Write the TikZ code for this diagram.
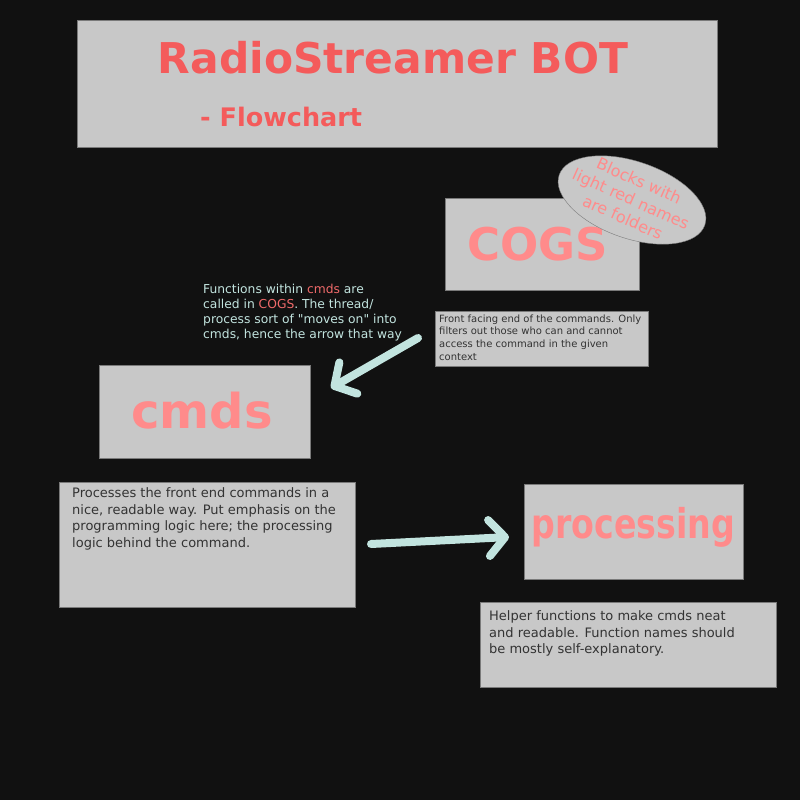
\documentclass[tikz,border=0pt]{standalone}
\usepackage{fontspec}
\setmainfont{DejaVu Sans}[Ligatures=TeXOff]
\usetikzlibrary{shapes.geometric,arrows.meta}
\definecolor{bg}{HTML}{111111}
\definecolor{boxfill}{HTML}{C8C8C8}
\definecolor{boxline}{HTML}{7A7A7A}
\definecolor{titlered}{HTML}{F45B5B}
\definecolor{lightred}{HTML}{FF8B8B}
\definecolor{mint}{HTML}{C2E4DF}
\definecolor{bodytext}{HTML}{333333}
\definecolor{annored}{HTML}{F06A6A}
\tikzset{
  box/.style={draw=boxline, line width=0.8pt, fill=boxfill, anchor=north west, inner sep=0pt},
  flowarrow/.style={draw=mint, line width=8pt, line cap=round, -{Straight Barb[length=16pt, width=36pt, round]}},
  bigname/.style={text=lightred, font=\bfseries\fontsize{#1}{#1}\selectfont, inner sep=0pt, anchor=base},
  para/.style={anchor=north west, inner sep=0pt, align=left, text=bodytext},
}
\begin{document}
\begin{tikzpicture}[x=1pt,y=-1pt]
\useasboundingbox (0,0) rectangle (800,800);
\fill[bg] (0,0) rectangle (800,800);

% title
\node[box, minimum width=640pt, minimum height=127pt] (titlebox) at (77,20) {};
\node[text=titlered, font=\bfseries\fontsize{42.4}{42}\selectfont, inner sep=0pt, anchor=base] (title) at (393,74) {RadioStreamer BOT};
\node[text=titlered, font=\bfseries\fontsize{25.5}{26}\selectfont, inner sep=0pt, anchor=base west] (subtitle) at (200,126) {- Flowchart};

% COGS
\node[box, minimum width=194pt, minimum height=92pt] (cogsbox) at (445,198) {};
\node[bigname=45] (cogs) at (538,260) {COGS};
\node[draw=boxline, line width=0.4pt, fill=boxfill, ellipse, minimum width=154pt, minimum height=77pt, inner sep=0pt, rotate=-19] (noteshape) at (632,200) {};
\node[text=lightred, font=\fontsize{16}{20}\selectfont, align=center, inner sep=0pt, rotate=-24] (notetext) at (631,199) {Blocks with\\light red names\\are folders};

\node[box, minimum width=213pt, minimum height=55pt] (cogsdesc) at (435,311) {};
\node[para, font=\fontsize{10}{12.6}\selectfont] (cogsdesctext) at (439,314.5) {Front facing end of the commands. Only\\filters out those who can and cannot\\access the command in the given\\context};

% annotation
\node[anchor=north west, inner sep=0pt, align=left, text=mint, font=\fontsize{12.3}{15.1}\selectfont] (anno) at (203,283.5) {Functions within \textcolor{annored}{cmds} are\\called in \textcolor{annored}{COGS}. The thread/\\process sort of "moves on" into\\cmds, hence the arrow that way};

% cmds
\node[box, minimum width=211pt, minimum height=93pt] (cmdsbox) at (99,365) {};
\node[bigname=48] (cmds) at (202,428) {cmds};

\node[box, minimum width=296pt, minimum height=125pt] (cmdsdesc) at (59,482) {};
\node[para, font=\fontsize{13}{16.7}\selectfont] (cmdsdesctext) at (72,487.5) {Processes the front end commands in a\\nice, readable way. Put emphasis on the\\programming logic here; the processing\\logic behind the command.};

% processing
\node[box, minimum width=219pt, minimum height=95pt] (procbox) at (524,484) {};
\node[bigname=41, xscale=0.81] (proc) at (633.5,538) {processing};

\node[box, minimum width=296pt, minimum height=85pt] (procdesc) at (480,602) {};
\node[para, font=\fontsize{13}{16.7}\selectfont] (procdesctext) at (489,610.5) {Helper functions to make cmds neat\\and readable. Function names should\\be mostly self-explanatory.};

% arrows
\coordinate (a1s) at (418,338);
\coordinate (a1e) at (331,388);
\coordinate (a2s) at (371,544);
\coordinate (a2e) at (509,537);
\draw[flowarrow] (a1s) -- (a1e);
\draw[flowarrow] (a2s) -- (a2e);
\end{tikzpicture}
\end{document}
